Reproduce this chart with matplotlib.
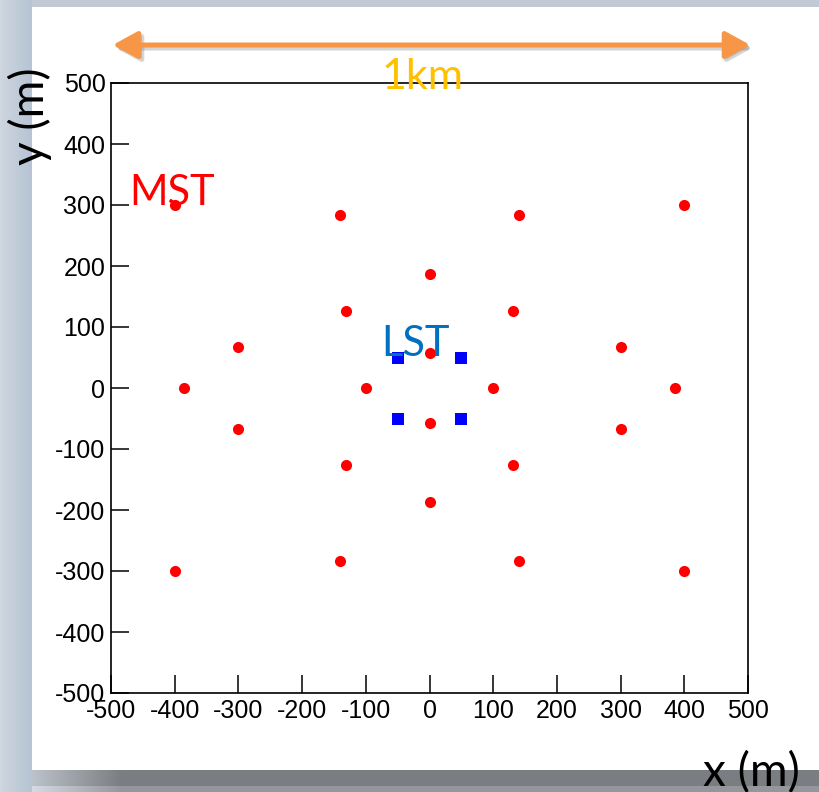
import numpy as np
import matplotlib.pyplot as plt
from matplotlib.patches import FancyArrowPatch

# --- data: telescope positions (m) ---
mst_x = [-400, -141, 141, 400, 0, -131, 131, -300, 300, 0, -385, -100,
         100, 385, -300, 300, 0, -131, 131, 0, -400, -141, 141, 400]
mst_y = [300, 283, 283, 300, 187, 126, 126, 67, 67, 57, 0, 0,
         0, 0, -67, -67, -57, -126, -126, -187, -300, -283, -283, -300]
lst_x = [-50, 50, -50, 50]
lst_y = [50, 50, -50, -50]
ticks = [-500, -400, -300, -200, -100, 0, 100, 200, 300, 400, 500]

plt.rcParams["axes.unicode_minus"] = False

W, H = 819, 792
fig = plt.figure(figsize=(W / 100, H / 100), dpi=100)


def px(x, y):
    """pixel (from top-left) -> figure fraction"""
    return x / W, 1 - y / H


# --- slide background ---
bg = np.ones((H, W, 3))
bg[:, :] = np.array([196, 206, 218]) / 255
# left strip, darker toward the panel
for i in range(32):
    t = i / 31
    bg[:, i] = (np.array([206, 214, 223]) * (1 - t) + np.array([182, 196, 212]) * t) / 255
bg[:7, 32:] = np.array([192, 201, 212]) / 255
# bottom shadow band
for j in range(32, W):
    t = min((j - 32) / 90, 1)
    col = np.array([188, 194, 202]) * (1 - t) + np.array([122, 125, 129]) * t
    bg[770:786, j] = col / 255
    bg[786:, j] = (col + 25) / 255
# white slide panel
bg[7:770, 32:] = 1.0
bg_ax = fig.add_axes([0, 0, 1, 1], zorder=0)
bg_ax.imshow(bg, aspect="auto", extent=[0, 1, 0, 1])
bg_ax.axis("off")

# --- main plot ---
ax = fig.add_axes([111 / W, 99 / H, 637 / W, 610 / H], zorder=2)
ax.set_facecolor("white")
ax.plot(mst_x, mst_y, "o", color="#FF0000", markersize=8, markeredgewidth=0)
ax.plot(lst_x, lst_y, "s", color="#0000FF", markersize=8, markeredgewidth=0)
ax.set_xlim(-500, 500)
ax.set_ylim(-500, 500)
ax.set_xticks(ticks)
ax.set_yticks(ticks)
ax.tick_params(direction="in", length=13, width=1.1, labelsize=18, pad=4,
               top=False, right=False)
for lab in ax.get_xticklabels() + ax.get_yticklabels():
    lab.set_family("Liberation Sans")
for sp in ax.spines.values():
    sp.set_linewidth(1.2)

# --- slide annotations ---
shadow = FancyArrowPatch(px(113, 48), px(755, 48), transform=fig.transFigure,
                         arrowstyle="<|-|>,head_length=10,head_width=5.5",
                         mutation_scale=1.5, linewidth=3.6, color="#888888",
                         alpha=0.35, zorder=5)
fig.add_artist(shadow)
arrow = FancyArrowPatch(px(110, 45), px(753, 45), transform=fig.transFigure,
                        arrowstyle="<|-|>,head_length=10,head_width=5.5",
                        mutation_scale=1.5, linewidth=3.6, color="#F79646",
                        zorder=6)
fig.add_artist(arrow)

slide_font = "Lato"
fig.text(*px(381, 89), "1km", color="#FFC000", fontsize=31, family=slide_font,
         ha="left", va="baseline", zorder=7)
fig.text(*px(129, 205), "MST", color="#FF0000", fontsize=30, family=slide_font,
         ha="left", va="baseline", zorder=7)
fig.text(*px(381, 356), "LST", color="#0070C0", fontsize=30, family=slide_font,
         ha="left", va="baseline", zorder=7)
fig.text(*px(30, 116), "y (m)", color="black", fontsize=33, family=slide_font,
         rotation=90, ha="center", va="center", zorder=7)
fig.text(*px(751, 786), "x (m)", color="black", fontsize=33, family=slide_font,
         ha="center", va="baseline", zorder=7)

fig.savefig("out.png", dpi=100)
